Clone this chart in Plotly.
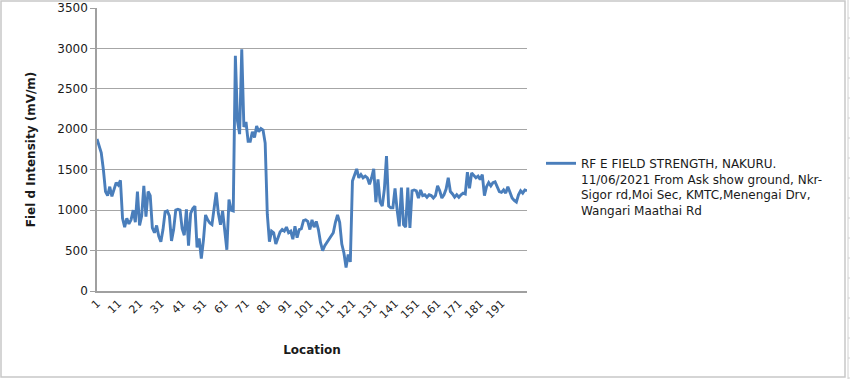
import plotly.graph_objects as go

# Field intensity (mV/m) per location
field_strength = [
    1880, 1800, 1710, 1500, 1230, 1180, 1290, 1170, 1270, 1340,
    1310, 1370, 900, 790, 900, 830, 880, 1000, 850, 1230,
    810, 930, 1300, 920, 1230, 1180, 780, 720, 810, 680,
    610, 760, 980, 990, 930, 620, 760, 1000, 1010, 1000,
    770, 690, 1010, 560, 960, 1020, 1050, 540, 650, 400,
    630, 940, 880, 840, 820, 1000, 1220, 960, 820, 990,
    780, 510, 1130, 1000, 990, 2910, 2100, 1940, 2990, 2030,
    2090, 1850, 1850, 1970, 1900, 2040, 1970, 2010, 1990, 1830,
    950, 610, 740, 720, 580, 650, 730, 760, 740, 790,
    720, 740, 640, 800, 660, 760, 770, 870, 880, 860,
    760, 880, 790, 860, 760, 600, 500, 560, 600, 640,
    670, 720, 850, 940, 850, 580, 470, 290, 450, 360,
    1360, 1440, 1510, 1400, 1440, 1400, 1420, 1400, 1320, 1400,
    1510, 1100, 1380, 1100, 1050, 1260, 1670, 1050, 1030, 1030,
    1270, 1000, 800, 1280, 820, 790, 1280, 780, 1240, 1250,
    1240, 1150, 1250, 1180, 1190, 1160, 1190, 1180, 1150, 1180,
    1300, 1240, 1150, 1190, 1260, 1400, 1230, 1200, 1160, 1190,
    1160, 1190, 1210, 1200, 1470, 1270, 1460, 1430, 1400, 1420,
    1380, 1440, 1180, 1290, 1340, 1300, 1340, 1350, 1280, 1230,
    1220, 1250, 1210, 1290, 1220, 1150, 1120, 1100, 1190, 1240,
    1210, 1250, 1240,
]
locations = list(range(1, len(field_strength) + 1))
x_tick_values = list(range(1, 192, 10))
y_tick_values = [0, 500, 1000, 1500, 2000, 2500, 3000, 3500]

series_name = ("RF E FIELD STRENGTH, NAKURU.<br>"
               "11/06/2021 From Ask show ground, Nkr-<br>"
               "Sigor rd,Moi Sec, KMTC,Menengai Drv,<br>"
               "Wangari Maathai Rd")

FONT = "DejaVu Sans"
W, H = 850, 379
L, R, T, B = 97, 527, 8, 291  # plot area in pixels


def px(xp):
    return (xp - L) / (R - L)


def py(yp):
    return (B - yp) / (B - T)


fig = go.Figure()
fig.add_trace(go.Scatter(
    x=locations, y=field_strength, mode="lines", name=series_name,
    line=dict(color="#4a7ebb", width=2.9),
))

fig.update_layout(
    width=W, height=H,
    margin=dict(l=L, r=W - R, t=T, b=H - B, pad=0, autoexpand=False),
    paper_bgcolor="white", plot_bgcolor="white",
    font=dict(family=FONT, size=12, color="#1a1a1a"),
    showlegend=True,
    legend=dict(
        x=px(541), xanchor="left", y=py(149), yanchor="top",
        font=dict(family=FONT, size=12, color="#1a1a1a"),
        valign="top", itemwidth=30, bgcolor="rgba(0,0,0,0)",
        tracegroupgap=0,
    ),
    xaxis=dict(
        automargin=False,
        range=[1, len(field_strength)],
        tickmode="array", tickvals=x_tick_values,
        ticktext=[str(v) for v in x_tick_values],
        tickangle=-45, tickfont=dict(size=11, family=FONT, color="#1a1a1a"),
        showgrid=False, zeroline=False,
        showline=True, linecolor="#a0a0a0", linewidth=1.5,
        ticks="",
        title=dict(text="<b>Location</b>", font=dict(size=12, family=FONT, color="#1a1a1a"),
                   standoff=25),
    ),
    yaxis=dict(
        automargin=False,
        range=[0, 3500],
        tickmode="array", tickvals=y_tick_values,
        tickfont=dict(size=12, family=FONT, color="#1a1a1a"),
        showgrid=True, gridcolor="#a6a6a6", gridwidth=1,
        zeroline=False,
        showline=True, linecolor="#a0a0a0", linewidth=1.5,
        ticks="outside", ticklen=5, tickcolor="#a0a0a0",
        title=dict(text="<b>Fiel d Intensity (mV/m)</b>",
                   font=dict(size=12, family=FONT, color="#1a1a1a"), standoff=19),
    ),
)

# Chart border (Excel chart object outline) and sheet edge
fig.add_shape(type="rect", xref="paper", yref="paper",
              x0=px(1), x1=px(845), y0=py(377), y1=py(1),
              line=dict(color="#c8c8c8", width=1.5), layer="below")
fig.add_shape(type="line", xref="paper", yref="paper",
              x0=px(848), x1=px(848), y0=py(379), y1=py(0),
              line=dict(color="#d0d0d0", width=1))
for k in range(19):
    yy = 18 + 20 * k
    fig.add_shape(type="line", xref="paper", yref="paper",
                  x0=px(848), x1=px(851), y0=py(yy), y1=py(yy),
                  line=dict(color="#d0d0d0", width=1))

fig.write_html("out.html",
               config={"displayModeBar": False},
               post_script="document.body.style.margin='0';document.body.style.overflow='hidden';")
